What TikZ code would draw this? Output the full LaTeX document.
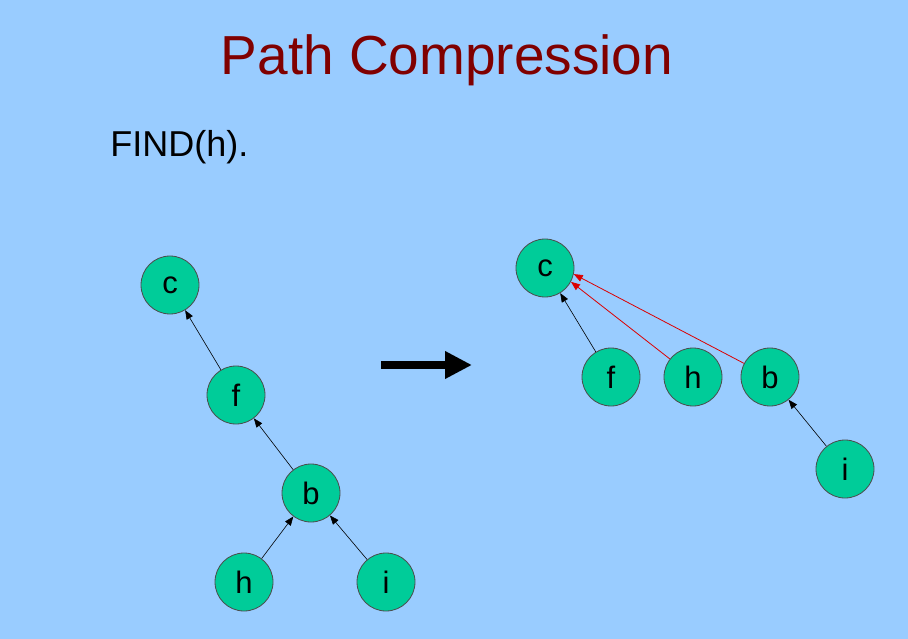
\documentclass[tikz,border=0pt]{standalone}
\usepackage{fontspec}
\setmainfont{Liberation Sans}
\usetikzlibrary{arrows.meta}
\definecolor{slideblue}{RGB}{153,204,255}
\definecolor{nodegreen}{RGB}{0,204,153}
\definecolor{titlered}{RGB}{128,0,0}
\definecolor{linkred}{RGB}{220,0,0}
\begin{document}
\begin{tikzpicture}[x=1pt,y=-1pt,>={Triangle[length=9pt,width=7pt]},->,line width=.6pt,
vertex/.style={circle, draw=black!70, line width=.8pt, fill=nodegreen, minimum size=58pt, inner sep=0pt, font=\fontsize{31}{31}\selectfont}]
\fill[slideblue] (0,0) rectangle (908,639);
\useasboundingbox (0,0) rectangle (908,639);

\node[anchor=base, text=titlered, font=\fontsize{55}{55}\selectfont] (title) at (447,75) {Path Compression};
\node[anchor=base west, inner sep=0pt, font=\fontsize{36}{36}\selectfont] (find) at (110,157) {FIND(h).};

\node[vertex] (lc) at (170,285) {c};
\node[vertex] (lf) at (236,395) {f};
\node[vertex] (lb) at (311,493) {b};
\node[vertex] (lh) at (244,582) {h};
\node[vertex] (li) at (386,582) {i};

\draw (lf)--(lc);
\draw (lb)--(lf);
\draw (lh)--(lb);
\draw (li)--(lb);

\coordinate (from) at (381,365);
\coordinate (to) at (472,365);
\draw[-{Triangle[length=27pt,width=26pt]}, line width=8pt] (from)--(to);

\node[vertex] (rc) at (545,268) {c};
\node[vertex] (rf) at (611,377) {f};
\node[vertex] (rh) at (693,377) {h};
\node[vertex] (rb) at (770,377) {b};
\node[vertex] (ri) at (845,469) {i};

\draw (rf)--(rc);
\draw (ri)--(rb);
\draw[linkred, line width=.8pt] (rh)--(rc.-28);
\draw[linkred, line width=.8pt] (rb)--(rc.-12);

\end{tikzpicture}
\end{document}
